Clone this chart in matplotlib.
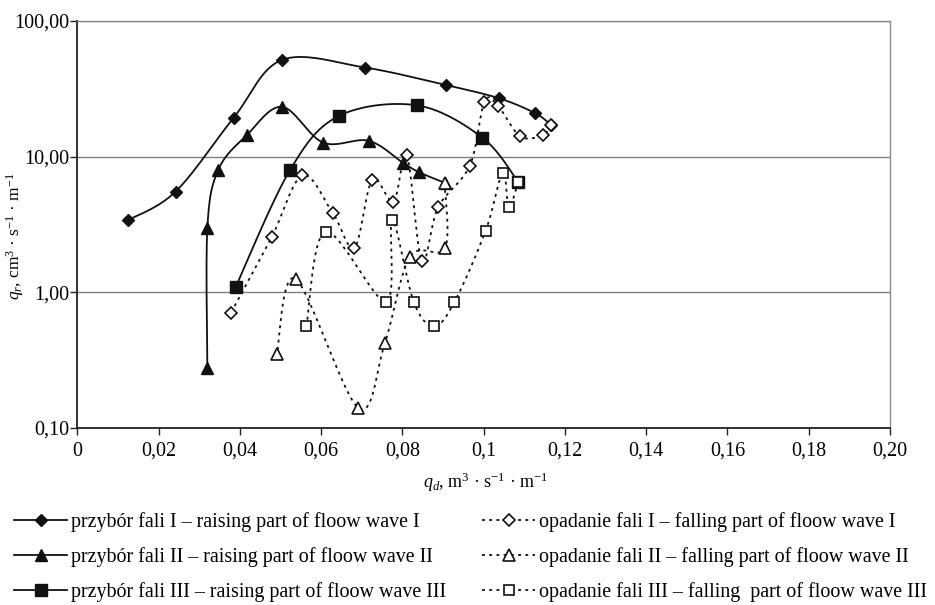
import numpy as np
import matplotlib
matplotlib.use("Agg")
import matplotlib.pyplot as plt
from matplotlib.lines import Line2D

plt.rcParams['font.family'] = ['Liberation Serif', 'DejaVu Serif']
plt.rcParams['mathtext.fontset'] = 'custom'
plt.rcParams['mathtext.rm'] = 'Liberation Serif'
plt.rcParams['mathtext.it'] = 'Liberation Serif:italic'

# ---------------- data ----------------
rise1_x = [0.01255, 0.0242, 0.0385, 0.0504, 0.0708, 0.0907, 0.1037, 0.1127, 0.1166]
rise1_y = [3.41, 5.53, 19.4, 51.7, 45.4, 33.7, 27.0, 20.9, 17.1]

rise2_x = [0.0320, 0.0320, 0.0347, 0.0418, 0.0504, 0.0605, 0.0717, 0.0802, 0.0841, 0.0904]
rise2_y = [0.278, 2.96, 8.01, 14.5, 23.3, 12.7, 13.1, 8.98, 7.68, 6.42]

rise3_x = [0.0390, 0.0523, 0.0643, 0.0836, 0.0997, 0.1085]
rise3_y = [1.10, 7.92, 19.9, 23.9, 13.8, 6.52]

fall1_x = [0.1166, 0.1145, 0.1090, 0.1036, 0.1002, 0.0966, 0.0888, 0.0848, 0.0811,
           0.0778, 0.0726, 0.0682, 0.0629, 0.0554, 0.0478, 0.0378]
fall1_y = [17.1, 14.4, 14.1, 23.5, 25.4, 8.6, 4.24, 1.70, 10.2,
           4.67, 6.76, 2.13, 3.83, 7.27, 2.54, 0.707]

fall2_x = [0.0904, 0.0905, 0.0819, 0.0757, 0.0692, 0.0537, 0.0491]
fall2_y = [6.42, 2.11, 1.83, 0.424, 0.140, 1.26, 0.351]

fall3_x = [0.1085, 0.1062, 0.1047, 0.1005, 0.0928, 0.0878, 0.0828, 0.0775, 0.0760, 0.0611, 0.0564]
fall3_y = [6.52, 4.24, 7.64, 2.85, 0.848, 0.563, 0.848, 3.41, 0.848, 2.80, 0.563]

labels = [
    "przybór fali I – raising part of floow wave I",
    "przybór fali II – raising part of floow wave II",
    "przybór fali III – raising part of floow wave III",
    "opadanie fali I – falling part of floow wave I",
    "opadanie fali II – falling part of floow wave II",
    "opadanie fali III – falling  part of floow wave III",
]

x_ticks = [0, 0.02, 0.04, 0.06, 0.08, 0.10, 0.12, 0.14, 0.16, 0.18, 0.20]
x_ticklabels = ['0', '0,02', '0,04', '0,06', '0,08', '0,1', '0,12', '0,14', '0,16', '0,18', '0,20']
y_ticks = [0.1, 1, 10, 100]
y_ticklabels = ['0,10', '1,00', '10,00', '100,00']

# ---------------- smoothing (Excel-like bezier in screen space) ----------------
SX = 4063.5   # px per x unit
SY = 135.5    # px per decade


def smooth(xs, ys, n=24):
    P = np.column_stack([np.asarray(xs) * SX, np.log10(ys) * SY])
    E = np.vstack([P[0], P, P[-1]])
    out = []
    t = np.linspace(0, 1, n)[:, None]
    for i in range(len(P) - 1):
        p0, p1, p2, p3 = E[i], E[i + 1], E[i + 2], E[i + 3]
        c1 = p1 + (p2 - p0) / 6.0
        c2 = p2 - (p3 - p1) / 6.0
        seg = (1 - t) ** 3 * p1 + 3 * (1 - t) ** 2 * t * c1 + 3 * (1 - t) * t ** 2 * c2 + t ** 3 * p2
        out.append(seg if i == 0 else seg[1:])
    Q = np.vstack(out)
    return Q[:, 0] / SX, 10 ** (Q[:, 1] / SY)


fig = plt.figure(figsize=(9.35, 6.05), dpi=100)
L, R, T, B = 77.3, 890, 21, 428
ax = fig.add_axes([L / 935, 1 - B / 605, (R - L) / 935, (B - T) / 605])
ax.set_yscale('log')
ax.set_xlim(0, 0.20)
ax.set_ylim(0.1, 100)

col = '#111111'
solid = dict(color=col, lw=1.3, linestyle='-')
dotted = dict(color=col, lw=1.3, linestyle=(0, (1.6, 2.4)))

series = [
    (rise1_x, rise1_y, solid, dict(marker='D', ms=6.4, mfc=col, mec=col)),
    (rise2_x, rise2_y, solid, dict(marker='^', ms=8, mfc=col, mec=col)),
    (rise3_x, rise3_y, solid, dict(marker='s', ms=8, mfc=col, mec=col)),
    (fall1_x, fall1_y, dotted, dict(marker='D', ms=6.2, mfc='white', mec=col, mew=1.2)),
    (fall2_x, fall2_y, dotted, dict(marker='^', ms=8, mfc='white', mec=col, mew=1.2)),
    (fall3_x, fall3_y, dotted, dict(marker='s', ms=7.5, mfc='white', mec=col, mew=1.2)),
]

handles = []
for k, (xs, ys, ls, mk) in enumerate(series):
    sx, sy = smooth(xs, ys)
    ax.plot(sx, sy, zorder=3 + k * 0.1, **ls)
    ax.plot(xs, ys, linestyle='none', zorder=4 + k * 0.1, **mk)
    handles.append(Line2D([], [], **ls, **mk))

# axes styling
ax.set_xticks(x_ticks)
ax.set_xticklabels(x_ticklabels)
ax.set_yticks(y_ticks)
ax.set_yticklabels(y_ticklabels)
ax.yaxis.set_minor_locator(matplotlib.ticker.NullLocator())
ax.tick_params(axis='both', direction='out', length=5, width=1, color='#222222',
               labelsize=14.5)
ax.tick_params(axis='y', pad=0.5)
ax.tick_params(axis='x', pad=5)
ax.grid(axis='y', which='major', color='#7f7f7f', lw=1)
ax.set_axisbelow(True)
for s in ['left', 'bottom']:
    ax.spines[s].set_color('#222222')
    ax.spines[s].set_linewidth(1.3)
for s in ['top', 'right']:
    ax.spines[s].set_color('#8a8a8a')
    ax.spines[s].set_linewidth(1.0)

fig.text(486 / 935, 1 - 482 / 605, r'$q_d$, m$^3$ · s$^{-1}$ · m$^{-1}$',
         ha='center', va='center', fontsize=13)
fig.text(15 / 935, 1 - 236 / 605, r'$q_r$, cm$^3$ · s$^{-1}$ · m$^{-1}$',
         ha='center', va='center', fontsize=12.5, rotation=90)

leg = fig.legend(handles, labels, ncol=2, loc='upper left',
                 bbox_to_anchor=(14 / 935, 1 - 512 / 605), frameon=False,
                 fontsize=14.4, handlelength=2.65, handletextpad=0.2,
                 columnspacing=1.8, labelspacing=0.76, borderpad=0, borderaxespad=0)

fig.savefig('out.png', dpi=100)
